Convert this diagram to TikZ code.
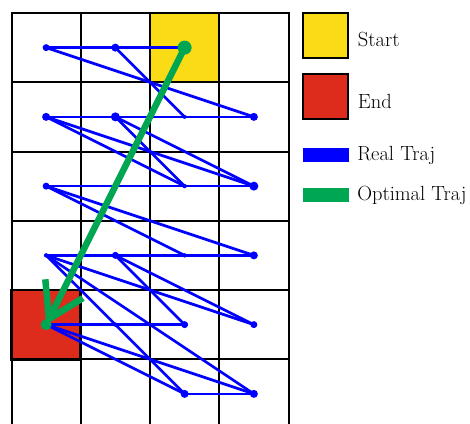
\documentclass[tikz,border=0pt]{standalone}
\usepackage{tikz}
\usetikzlibrary{arrows.meta}
\definecolor{startyellow}{HTML}{F9DC16}
\definecolor{endred}{HTML}{DD2C1C}
\definecolor{trajblue}{HTML}{0000FF}
\definecolor{optgreen}{HTML}{00A651}

\begin{document}
\begin{tikzpicture}[x=69.25pt, y=-69.25pt,
    gridline/.style={draw=black, line width=2pt, line cap=rect},
    realtraj/.style={draw=trajblue, line width=2.7pt},
    legbox/.style={draw=black, line width=1.8pt, minimum size=45pt, inner sep=0pt},
    legbar/.style={minimum width=46pt, minimum height=14pt, inner sep=0pt},
    leglabel/.style={anchor=base west, font=\fontsize{20.5}{22}\selectfont, inner sep=0pt}
]
  \useasboundingbox (-0.1661,-0.1877) rectangle (6.621,5.921);

  % Start- und Zielfeld
  \fill[startyellow] (2,0) rectangle (3,1);
  \fill[endred] (0,4) rectangle (1,5);

  % Gitter
  \foreach \c in {0,...,4}
    \draw[gridline] (\c,0) -- (\c,5.95);
  \foreach \r in {0,...,5}
    \draw[gridline] (0,\r) -- (4,\r);
  \draw[line width=2.8pt] (0,4) rectangle (1,5);

  % Zellmittelpunkte
  \foreach \r in {0,...,5}
    \foreach \c in {0,...,3}
      \coordinate (p\r\c) at (\c+0.5,\r+0.5);

  % reale Trajektorie: waagrechte Stuecke
  \draw[realtraj] (p00) -- (p02);
  \draw[realtraj] (p10) -- (p13);
  \draw[realtraj] (p20) -- (p23);
  \draw[realtraj] (p30) -- (p33);
  \draw[realtraj] (p40) -- (p42);
  \draw[realtraj] (p52) -- (p53);

  % reale Trajektorie: Spruenge in die naechste Zeile
  \foreach \a/\b in {00/13, 01/12, 10/22, 10/23, 11/22, 11/23, 20/32, 20/33,
                     30/43, 30/52, 30/53, 31/42, 31/43, 40/52, 40/53}
    \draw[realtraj] (p\a) -- (p\b);

  % Punkte
  \foreach \p/\s in {00/3.5, 01/4, 10/4, 11/4.5, 12/2, 13/4, 20/3.5, 22/2.2,
                     23/4.5, 30/2.2, 31/3.5, 32/2.2, 33/4, 41/2.2, 42/3.5, 43/3.5, 52/4, 53/4}
    \fill[trajblue] (p\p) circle (\s pt);

  % optimale Trajektorie
  \draw[optgreen, line width=6.5pt, -{Straight Barb[length=34pt, width=42pt]}] (p02) -- (p40);
  \fill[optgreen] (p02) circle (7pt);
  \fill[optgreen] (p40) circle (5.5pt);

  % Legende
  \node[legbox, fill=startyellow] (legstart) at (4.54,0.33) {};
  \node[leglabel] at ([xshift=8.5pt, yshift=-10.7pt]legstart.east) {Start};
  \node[legbox, fill=endred] (legfinish) at (4.54,1.206) {};
  \node[leglabel] at ([xshift=8.5pt, yshift=-11.8pt]legfinish.east) {End};
  \node[legbar, fill=trajblue] (legreal) at (4.54,2.05) {};
  \node[leglabel] at ([xshift=8pt, yshift=-5.7pt]legreal.east) {Real Traj};
  \node[legbar, fill=optgreen] (legopt) at (4.54,2.628) {};
  \node[leglabel] at ([xshift=8pt, yshift=-5.7pt]legopt.east) {Optimal Traj};

\end{tikzpicture}
\end{document}
